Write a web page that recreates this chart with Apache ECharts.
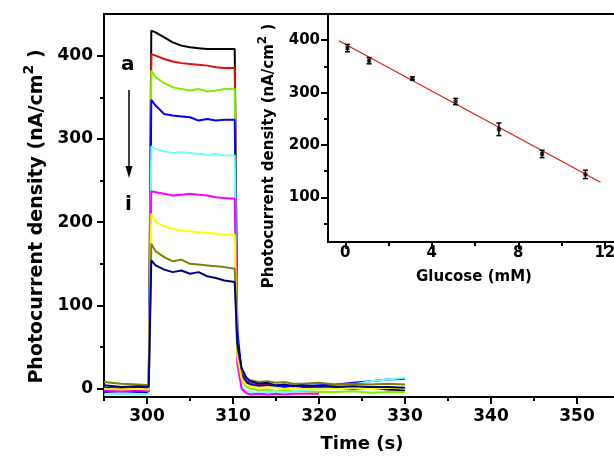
<!DOCTYPE html>
<html>
<head>
<meta charset="utf-8">
<script src="https://cdn.jsdelivr.net/npm/echarts@6/dist/echarts.min.js"></script>
<style>
  html, body { margin: 0; padding: 0; background: #fff; }
  #main { width: 614px; height: 457px; }
</style>
</head>
<body>
<div id="main"></div>
<script>
// time axis of the transient traces (s)
var timeS = [295, 297, 299, 300.2, 300.5, 301, 302, 303, 304, 305, 306, 307, 308, 309, 310.2, 310.5, 311, 311.5, 312, 313, 314, 315, 316, 317, 318, 320, 322, 324, 326, 328, 330];
// photocurrent density (nA/cm2), curves a..i
var traceA = [1, 0, 1, 0, 430, 428, 422, 416, 412, 410, 409, 408, 408, 408, 408, 60, 18, 8, 5, 3, 2, 3, 1, 2, 1, 2, 1, 0, 1, -1, -2];
var traceB = [-1, 0, -1, -1, 402, 400, 396, 393, 391, 390, 389, 388, 386, 385, 385, 55, 15, 9, 6, 4, 5, 2, 4, 2, 3, 2, null, null, null, null, null];
var traceC = [-3, -2, -3, -3, 382, 374, 367, 362, 360, 358, 360, 357, 358, 360, 360, 45, 10, 3, 0, -2, -1, -3, -2, -3, -3, -4, -4, -3, -5, -4, -4];
var traceD = [-4, -3, -4, -4, 347, 340, 330, 328, 327, 326, 322, 324, 322, 323, 323, 70, 20, 10, 5, 3, 4, 2, 3, 4, 3, 4, 5, 7, 9, 11, 12];
var traceE = [-7, -6, -7, -6, 291, 288, 285, 283, 284, 283, 282, 281, 282, 280, 280, 40, 3, -3, -4, -6, -4, -3, -5, -3, -2, 0, 2, 5, 9, 11, 13];
var traceF = [-2, -3, -2, -3, 237, 236, 234, 232, 233, 234, 233, 232, 230, 229, 228, 30, 0, -5, -7, -6, -7, -6, -7, -6, -6, -6, null, null, null, null, null];
var traceG = [0, -1, 0, -1, 210, 200, 195, 192, 190, 189, 188, 187, 186, 185, 185, 40, 12, 5, 3, 1, 2, 1, 0, 1, 0, -1, 0, 1, 0, 1, 0];
var traceH = [8, 6, 5, 4, 174, 165, 158, 153, 155, 150, 149, 148, 147, 146, 144, 50, 22, 13, 10, 8, 9, 7, 8, 6, 6, 7, 5, 6, 5, 6, 5];
var traceI = [4, 2, 3, 2, 154, 148, 143, 140, 142, 138, 140, 135, 133, 130, 128, 55, 25, 14, 9, 6, 7, 4, 5, 3, 4, 3, 2, 3, 2, 2, 1];
var traceColors = ['#000000', '#e01010', '#80f000', '#0000ff', '#70ffff', '#ff00ff', '#ffff00', '#808000', '#000080'];

// inset: calibration
var glucoseMM = [0.1, 1.1, 3.1, 5.1, 7.1, 9.1, 11.1];
var photoMean = [385, 361, 327, 283, 230, 183, 144];
var photoErr = [7, 6, 3, 6, 12, 7, 8];
var fitX = [-0.3, 11.8];
var fitY = [399, 129];

// tick labels
var mainXTicks = [300, 310, 320, 330, 340, 350];
var mainXMinor = [295, 305, 315, 325, 335, 345];
var mainYTicks = [0, 100, 200, 300, 400];
var mainYMinor = [50, 150, 250, 350];
var insetXTicks = [0, 4, 8, 12];
var insetXMinor = [2, 6, 10];
var insetYTicks = [100, 200, 300, 400];
var insetYMinor = [50, 150, 250, 350];

var FONT = 'DejaVu Sans';
var myChart = echarts.init(document.getElementById('main'));

function pairs(xs, ys) {
  var out = [];
  for (var i = 0; i < xs.length; i++) out.push([xs[i], ys[i]]);
  return out;
}

function majorAxis(opt) {
  return Object.assign({
    type: 'value',
    splitLine: { show: false },
    axisLine: { show: true, onZero: false, lineStyle: { color: '#000', width: 2 } },
    axisTick: { show: true, inside: false, length: 7, customValues: opt.ticks, lineStyle: { color: '#000', width: 2 } },
    axisLabel: { show: true, customValues: opt.ticks, color: '#000', fontFamily: FONT, fontWeight: 'bold', fontSize: opt.fontSize, margin: opt.margin }
  }, opt.extra);
}

function minorAxis(opt) {
  return Object.assign({
    type: 'value',
    splitLine: { show: false },
    axisLine: { show: false, onZero: false },
    axisTick: { show: true, inside: false, length: opt.len, customValues: opt.ticks, lineStyle: { color: '#000', width: 2 } },
    axisLabel: { show: false }
  }, opt.extra);
}

var traces = [traceA, traceB, traceC, traceD, traceE, traceF, traceG, traceH, traceI];
var series = traces.map(function (tr, k) {
  return {
    type: 'line',
    xAxisIndex: 0,
    yAxisIndex: 0,
    data: pairs(timeS, tr),
    showSymbol: false,
    connectNulls: false,
    lineStyle: { color: traceColors[k], width: 2 },
    z: 3
  };
});

var errData = glucoseMM.map(function (g, i) {
  return [g, photoMean[i] - photoErr[i], photoMean[i] + photoErr[i]];
});

series.push({
  type: 'line',
  xAxisIndex: 2,
  yAxisIndex: 2,
  data: pairs(fitX, fitY),
  showSymbol: false,
  lineStyle: { color: '#e02020', width: 1.3 },
  z: 4
});
series.push({
  type: 'custom',
  xAxisIndex: 2,
  yAxisIndex: 2,
  data: errData,
  renderItem: function (params, api) {
    var x = api.value(0);
    var lo = api.coord([x, api.value(1)]);
    var hi = api.coord([x, api.value(2)]);
    var c = 2.5;
    var st = { stroke: '#000', lineWidth: 1.5 };
    return {
      type: 'group',
      children: [
        { type: 'line', shape: { x1: lo[0], y1: lo[1], x2: hi[0], y2: hi[1] }, style: st },
        { type: 'line', shape: { x1: lo[0] - c, y1: lo[1], x2: lo[0] + c, y2: lo[1] }, style: st },
        { type: 'line', shape: { x1: hi[0] - c, y1: hi[1], x2: hi[0] + c, y2: hi[1] }, style: st }
      ]
    };
  },
  z: 5
});
series.push({
  type: 'scatter',
  xAxisIndex: 2,
  yAxisIndex: 2,
  data: pairs(glucoseMM, photoMean),
  symbol: 'rect',
  symbolSize: 4,
  itemStyle: { color: '#000' },
  z: 6
});

var option = {
  backgroundColor: '#fff',
  animation: false,
  grid: [
    { left: 104, top: 14, right: -6, bottom: 60, show: true, borderColor: '#000', borderWidth: 2, containLabel: false, outerBoundsMode: 'none' },
    { left: 328, top: 14, right: -6, bottom: 215, show: true, backgroundColor: '#fff', borderColor: '#000', borderWidth: 2, containLabel: false, outerBoundsMode: 'none', z: 2 }
  ],
  xAxis: [
    majorAxis({ ticks: mainXTicks, fontSize: 17, margin: 11, extra: {
      gridIndex: 0, position: 'bottom', min: 295, max: 355,
      name: 'Time (s)', nameLocation: 'middle', nameGap: 38,
      nameTextStyle: { color: '#000', fontFamily: FONT, fontWeight: 'bold', fontSize: 18 }
    } }),
    minorAxis({ ticks: mainXMinor, len: 4, extra: { gridIndex: 0, position: 'bottom', min: 295, max: 355 } }),
    majorAxis({ ticks: insetXTicks, fontSize: 15, margin: 4, extra: {
      gridIndex: 1, position: 'bottom', min: -0.8, max: 12.7,
      name: 'Glucose (mM)', nameLocation: 'middle', nameGap: 28,
      nameTextStyle: { color: '#000', fontFamily: FONT, fontWeight: 'bold', fontSize: 15 }
    } }),
    minorAxis({ ticks: insetXMinor, len: 4, extra: { gridIndex: 1, position: 'bottom', min: -0.8, max: 12.7 } })
  ],
  yAxis: [
    majorAxis({ ticks: mainYTicks, fontSize: 17, margin: 11, extra: {
      gridIndex: 0, position: 'left', min: -10, max: 450,
      name: '{t|Photocurrent density (nA/cm}{s|2}{t| )}', nameLocation: 'middle', nameGap: 52,
      nameTextStyle: {
        color: '#000', padding: [0, 22, 0, 0],
        rich: {
          t: { fontFamily: FONT, fontWeight: 'bold', fontSize: 19, color: '#000' },
          s: { fontFamily: FONT, fontWeight: 'bold', fontSize: 14, color: '#000', padding: [0, 0, 16, 0] }
        }
      }
    } }),
    minorAxis({ ticks: mainYMinor, len: 4, extra: { gridIndex: 0, position: 'left', min: -10, max: 450 } }),
    majorAxis({ ticks: insetYTicks, fontSize: 15, margin: 8, extra: {
      gridIndex: 1, position: 'left', min: 15, max: 450,
      name: '{t|Photocurrent density (nA/cm}{s|2}{t| )}', nameLocation: 'middle', nameGap: 46,
      nameTextStyle: {
        color: '#000', padding: [0, 56, 0, 0],
        rich: {
          t: { fontFamily: FONT, fontWeight: 'bold', fontSize: 15, color: '#000' },
          s: { fontFamily: FONT, fontWeight: 'bold', fontSize: 12, color: '#000', padding: [0, 0, 13, 0] }
        }
      }
    } }),
    minorAxis({ ticks: insetYMinor, len: 4, extra: { gridIndex: 1, position: 'left', min: 15, max: 450 } })
  ],
  graphic: [
    { type: 'text', left: 121, top: 55, style: { text: 'a', fontFamily: FONT, fontWeight: 'bold', fontSize: 20, fill: '#000' }, z: 10 },
    { type: 'text', left: 125, top: 195, style: { text: 'i', fontFamily: FONT, fontWeight: 'bold', fontSize: 20, fill: '#000' }, z: 10 },
    { type: 'line', shape: { x1: 129, y1: 90, x2: 129, y2: 170 }, style: { stroke: '#000', lineWidth: 1.5 }, z: 10 },
    { type: 'polygon', shape: { points: [[125.5, 166], [132.5, 166], [129, 178]] }, style: { fill: '#000' }, z: 10 }
  ],
  series: series
};
myChart.setOption(option);
</script>
</body>
</html>
